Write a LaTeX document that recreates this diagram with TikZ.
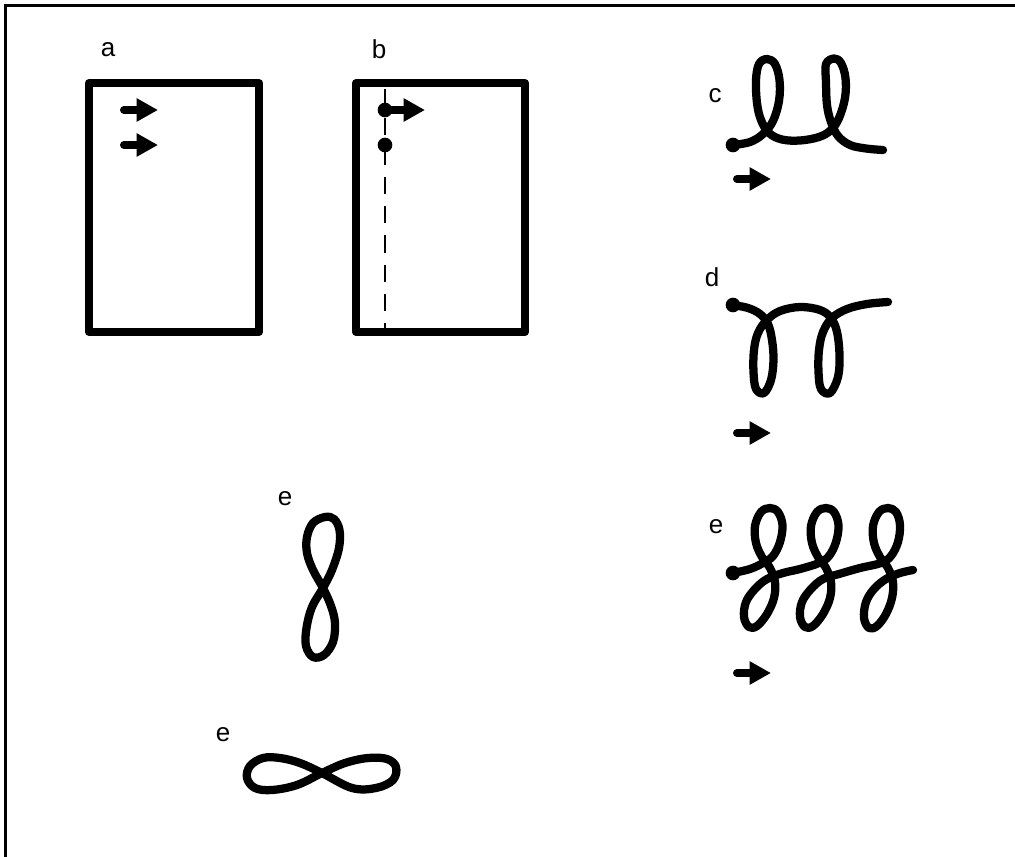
\documentclass[tikz,border=0pt]{standalone}
\usepackage{fontspec}
\setmainfont{Liberation Sans}
\usetikzlibrary{arrows.meta}
\begin{document}
\begin{tikzpicture}[x=0.75pt,y=-0.75pt,
  lbl/.style={font=\fontsize{19.5}{22}\selectfont, inner sep=0pt},
  boxline/.style={line width=6pt, line join=round},
  curve/.style={line width=6.2pt, line cap=round, line join=round},
  dirarrow/.style={line width=6pt, line cap=round, -{Triangle[length=16pt,width=16.5pt]}},
  dot/.style={circle, fill=black, inner sep=0pt, minimum size=11pt},
  ]
\useasboundingbox (0,0) rectangle (1015,857);
% frame
\draw[line width=2pt] (5.3,857) -- (5.3,5.5) -- (1015,5.5);

% box a
\node[lbl] (la) at (108,50) {a};
\draw[boxline] (89,83) rectangle (259,332);
\coordinate (a1s) at (124,110); \coordinate (a1e) at (158,110);
\coordinate (a2s) at (124,145); \coordinate (a2e) at (158,145);
\draw[dirarrow] (a1s) -- (a1e);
\draw[dirarrow] (a2s) -- (a2e);

% box b
\node[lbl] (lb) at (379,49) {b};
\draw[boxline] (356,83) rectangle (525,332);
\coordinate (bt) at (385,86); \coordinate (bb) at (385,329);
\draw[line width=2.1pt, dash pattern=on 13pt off 9pt, dash phase=-2pt] (bt) -- (bb);
\node[dot] (d1) at (385,110) {};
\node[dot] (d2) at (385,145) {};
\coordinate (b1e) at (425,110);
\draw[dirarrow] (d1.center) -- (b1e);

% curve c
\node[lbl] (lc) at (715,96) {c};
\draw[curve] plot[smooth, tension=0.6] coordinates {
 (733,145) (750,142) (763,134) (773,121) (779,101) (779.5,80) (775,64) (767,59) (759,64) (756,80) (757,103) (761,120) (769,133) (782,139.5) (800,140.5) (819,137) (831,130) (839,118) (845,98) (845.5,78) (841,63) (834,58.5) (826,64) (826,82) (827,105) (831,122) (838,136) (850,145) (866,148.5) (883,150)};
\node[dot] (cdot) at (733,145) {};
\coordinate (cas) at (737,179); \coordinate (cae) at (771,179);
\draw[dirarrow] (cas) -- (cae);

% curve d
\node[lbl] (ld) at (712,277) {d};
\draw[curve] plot[smooth, tension=0.6] coordinates {
 (733,305) (748,308) (760,314) (768,324) (772,340) (773.5,360) (771,380) (764,393) (756,389) (753.5,372) (754,350) (758,333) (767,320) (780,311) (800,307) (820,310) (831,318) (837,332) (839.5,355) (838,377) (830,393) (821,389) (818.5,372) (819,350) (823,332) (832,318) (847,309) (867,304) (888,302)};
\node[dot] (ddot) at (733,305) {};
\coordinate (das) at (737,433); \coordinate (dae) at (771,433);
\draw[dirarrow] (das) -- (dae);

% curve e (right)
\node[lbl] (le) at (716,527) {e};
\draw[curve] plot[smooth, tension=0.6] coordinates {
 (733,573) (750,569)
 (763,563) (773,556) (780,542) (782.5,525) (778,512) (770,508) (761,512) (755,526) (756,543) (762,557) (770,568) (775,582) (774,598) (767,614) (757,626) (749,627) (744,617) (746,602) (755,589) (767,579) (783,573) (800,569)
 (819,563) (829,556) (836,542) (838.5,525) (834,512) (826,508) (817,512) (811,526) (812,543) (818,557) (826,568) (831,582) (830,598) (823,614) (813,626) (805,627) (800,617) (802,602) (811,589) (823,579) (839,574) (860,568)
 (881,563) (891,556) (898,542) (900,525) (896,512) (888,508) (879,512) (873,526) (874,543) (880,557) (888,568) (893,582) (892,598) (886,614) (877,626) (869,628) (864,618) (866,602) (874,589) (886,579) (900,573) (913,570)};
\node[dot] (edot) at (733,573) {};
\coordinate (eas) at (737,673); \coordinate (eae) at (771,673);
\draw[dirarrow] (eas) -- (eae);

% vertical eight
\node[lbl] (le2) at (285,499) {e};
\draw[curve] plot[smooth cycle, tension=0.6] coordinates {
 (323,588) (332,570) (339,548) (339.5,530) (334,519) (325,517) (313,523) (307,537) (307,553) (313,570)
 (323,588) (331,606) (335,623) (333,642) (324,655) (313,657) (306,646) (306.5,628) (312,607)};

% horizontal eight
\node[lbl] (le3) at (223,735) {e};
\draw[curve] plot[smooth cycle, tension=0.6] coordinates {
 (322,773) (300,763) (280,758) (263,758) (250,766) (247,778) (255,788) (272,790) (297,785)
 (322,773) (345,763) (368,758) (387,759) (396,767) (393,780) (376,788) (352,788)};
\end{tikzpicture}
\end{document}
